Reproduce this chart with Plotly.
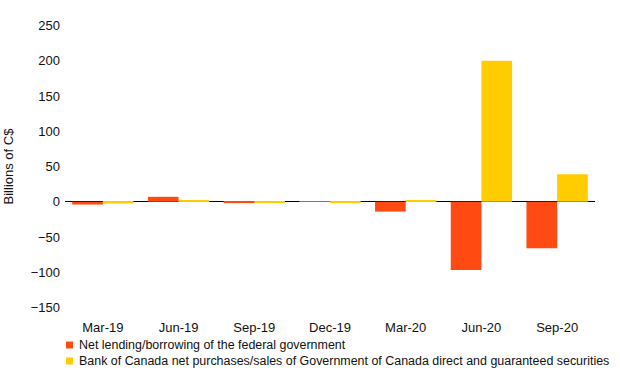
import plotly.graph_objects as go

categories = ["Mar-19", "Jun-19", "Sep-19", "Dec-19", "Mar-20", "Jun-20", "Sep-20"]
net_lending = [-4, 7, -2, 1, -14, -97, -66]
boc_purchases = [-2.5, 2.5, -2, -2, 2, 200, 39]
series_names = [
    "Net lending/borrowing of the federal government",
    "Bank of Canada net purchases/sales of Government of Canada direct and guaranteed securities",
]
series_colors = ["#FF4A14", "#FFCC00"]
y_ticks = [-150, -100, -50, 0, 50, 100, 150, 200, 250]

W, H = 620, 385
L, R, T, B = 65, 25, 15, 67
PW, PH = W - L - R, H - T - B

fig = go.Figure()
for vals, name, col in zip([net_lending, boc_purchases], series_names, series_colors):
    fig.add_trace(go.Bar(x=categories, y=vals, name=name, showlegend=False,
                         marker=dict(color=col, line=dict(width=0))))

# custom legend (square swatch + text), positioned in pixels converted to paper coords
def px_x(px):
    return (px - L) / PW

def px_y(py):
    return (H - B - py) / PH

shapes, annotations = [], []
for i, (name, col) in enumerate(zip(series_names, series_colors)):
    cy = 345 + 16 * i
    shapes.append(dict(type="rect", xref="paper", yref="paper",
                       x0=px_x(66), x1=px_x(73), y0=px_y(cy - 3.5), y1=px_y(cy + 3.5),
                       fillcolor=col, line=dict(width=0)))
    annotations.append(dict(text=name, xref="paper", yref="paper", x=px_x(77), y=px_y(cy),
                            xanchor="left", yanchor="middle", showarrow=False,
                            font=dict(size=12.45, color="#111")))

fig.update_layout(
    width=W, height=H,
    margin=dict(l=L, r=R, t=T, b=B, autoexpand=False),
    paper_bgcolor="white", plot_bgcolor="white",
    barmode="group", bargap=0.19, bargroupgap=0,
    font=dict(family="Liberation Sans, Arial, sans-serif", size=13, color="#111"),
    showlegend=False,
    shapes=shapes, annotations=annotations,
    xaxis=dict(showgrid=False, showline=False, ticks="", tickfont=dict(size=13),
               automargin=False),
    yaxis=dict(range=[-165, 265], tickvals=y_ticks, showgrid=False, showline=False,
               zeroline=True, zerolinecolor="black", zerolinewidth=1,
               automargin=True, ticklabelstandoff=4,
               title=dict(text="Billions of C$", font=dict(size=13), standoff=14),
               tickfont=dict(size=13), ticks=""),
)

fig.write_html("out.html", config={"displayModeBar": False},
               post_script="document.body.style.margin='0';")
